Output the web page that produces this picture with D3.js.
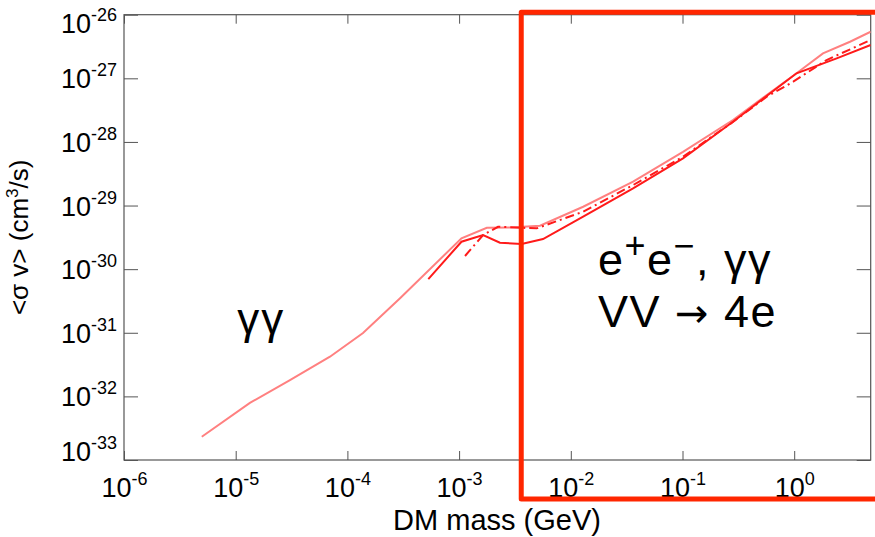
<!DOCTYPE html>
<html>
<head>
<meta charset="utf-8">
<script src="https://cdn.jsdelivr.net/npm/d3@7"></script>
<style>
  body { margin: 0; background: #fff; }
  svg { display: block; font-family: "Liberation Sans", Arial, Helvetica, sans-serif; }
  .axis line { stroke: #555; }
  .axis path { display: none; }
</style>
</head>
<body>
<div id="app"></div>
<script>
// tick values + exponent labels
const massTicks = [1e-6, 1e-5, 1e-4, 1e-3, 1e-2, 1e-1, 1];
const massExps = ["-6", "-5", "-4", "-3", "-2", "-1", "0"];
const sigmaTicks = [1e-33, 1e-32, 1e-31, 1e-30, 1e-29, 1e-28, 1e-27, 1e-26];
const sigmaExps = ["-33", "-32", "-31", "-30", "-29", "-28", "-27", "-26"];

// gamma gamma curve (light)
const gammaMass = [4.97e-6, 1.34e-5, 3.06e-5, 6.98e-5, 1.38e-4, 2.96e-4, 1.05e-3, 1.77e-3,
  2.86e-3, 5.3e-3, 1.29e-2, 3.61e-2, 0.101, 0.283, 0.568, 1.05, 1.81, 3.16, 4.84];
const gammaSigma = [2.32e-33, 7.9e-33, 1.8e-32, 4.2e-32, 9.9e-32, 3.48e-31, 3.05e-30, 4.48e-30,
  4.51e-30, 4.81e-30, 9.57e-30, 2.37e-29, 7.0e-29, 2.21e-28, 5.46e-28, 1.2e-27, 2.47e-27, 3.76e-27, 5.41e-27];

// e+e- curve (solid)
const eeMass = [5.3e-4, 1.05e-3, 1.64e-3, 2.32e-3, 3.63e-3, 5.64e-3, 1.29e-2, 3.61e-2, 0.101, 0.283, 1.05, 2.4, 4.84];
const eeSigma = [6.98e-31, 2.7e-30, 3.44e-30, 2.6e-30, 2.48e-30, 2.97e-30, 6.67e-30, 1.86e-29, 5.52e-29, 2.08e-28, 1.2e-27, 2.06e-27, 3.34e-27];

// VV -> 4e curve (dash-dot)
const vvMass = [1.13e-3, 1.64e-3, 2.23e-3, 4.95e-3, 1.29e-2, 3.61e-2, 0.101, 0.283, 0.568, 0.98, 1.95, 4.84];
const vvSigma = [1.61e-30, 3.44e-30, 4.64e-30, 4.38e-30, 8.0e-30, 2.1e-29, 5.85e-29, 2.06e-28, 5.14e-28, 8.85e-28, 1.94e-27, 4.0e-27];

const width = 875, height = 537;
const margin = { top: 14.7, right: 4.3, bottom: 77, left: 124 };

const svg = d3.select("#app").append("svg")
  .attr("width", width)
  .attr("height", height);

const x = d3.scaleLog().domain([1e-6, 4.84]).range([margin.left, width - margin.right]);
const y = d3.scaleLog().domain([1e-33, 1e-26]).range([height - margin.bottom, margin.top]);

const plotW = x.range()[1] - x.range()[0];
const plotH = y.range()[0] - y.range()[1];

svg.append("clipPath").attr("id", "clip")
  .append("rect")
  .attr("x", margin.left).attr("y", margin.top)
  .attr("width", plotW).attr("height", plotH);

// frame + inward ticks on all four sides
const bottomAxis = svg.append("g")
  .attr("class", "axis")
  .attr("transform", `translate(0,${y.range()[0]})`)
  .call(d3.axisBottom(x).tickValues(massTicks).tickSizeInner(-9).tickSizeOuter(0).tickFormat(""));

svg.append("g")
  .attr("class", "axis")
  .attr("transform", `translate(0,${y.range()[1]})`)
  .call(d3.axisTop(x).tickValues(massTicks).tickSizeInner(-9).tickSizeOuter(0).tickFormat(""));

const leftAxis = svg.append("g")
  .attr("class", "axis")
  .attr("transform", `translate(${x.range()[0]},0)`)
  .call(d3.axisLeft(y).tickValues(sigmaTicks).tickSizeInner(-14).tickSizeOuter(0).tickFormat(""));

svg.append("g")
  .attr("class", "axis")
  .attr("transform", `translate(${x.range()[1]},0)`)
  .call(d3.axisRight(y).tickValues(sigmaTicks).tickSizeInner(-14).tickSizeOuter(0).tickFormat(""));

svg.append("rect")
  .attr("x", margin.left).attr("y", margin.top)
  .attr("width", plotW).attr("height", plotH)
  .attr("fill", "none").attr("stroke", "#555").attr("stroke-width", 1.2);

// tick labels as 10^n
function powerLabel(sel, exp) {
  sel.append("tspan").text("10");
  sel.append("tspan").attr("dy", -12).attr("font-size", 18).text(exp);
}

bottomAxis.selectAll(".tick").each(function (d, i) {
  const t = d3.select(this).append("text")
    .attr("y", 37)
    .attr("text-anchor", "middle")
    .attr("fill", "#000")
    .attr("font-size", 27);
  powerLabel(t, massExps[i]);
});

leftAxis.selectAll(".tick").each(function (d, i) {
  // keep the end labels inside the frame, as in the original
  let base = 9.5;
  if (i === sigmaTicks.length - 1) base = 18;
  if (i === 0) base = 0;
  const t = d3.select(this).append("text")
    .attr("x", -7)
    .attr("y", base)
    .attr("text-anchor", "end")
    .attr("fill", "#000")
    .attr("font-size", 27);
  powerLabel(t, sigmaExps[i]);
});

// axis titles
svg.append("text")
  .attr("x", 497)
  .attr("y", 530)
  .attr("text-anchor", "middle")
  .attr("font-size", 29)
  .text("DM mass (GeV)");

const yTitle = svg.append("text")
  .attr("transform", `translate(28,${(y.range()[0] + y.range()[1]) / 2}) rotate(-90)`)
  .attr("text-anchor", "middle")
  .attr("font-size", 26);
yTitle.append("tspan").text("<σ v> (cm");
yTitle.append("tspan").attr("dy", -10).attr("font-size", 17).text("3");
yTitle.append("tspan").attr("dy", 10).text("/s)");

// curves
const line = d3.line().x(d => x(d[0])).y(d => y(d[1]));
const plot = svg.append("g").attr("clip-path", "url(#clip)");

const curves = [
  { mass: gammaMass, sigma: gammaSigma, color: "#ff8080", dash: null },
  { mass: vvMass, sigma: vvSigma, color: "#ff1a1a", dash: "9,4,2,4" },
  { mass: eeMass, sigma: eeSigma, color: "#ff1a1a", dash: null }
];

plot.selectAll("path.curve")
  .data(curves)
  .enter()
  .append("path")
  .attr("class", "curve")
  .attr("d", c => line(c.mass.map((m, i) => [m, c.sigma[i]])))
  .attr("fill", "none")
  .attr("stroke", c => c.color)
  .attr("stroke-width", 2)
  .attr("stroke-dasharray", c => c.dash);

// highlighted region box
const boxFrom = 3.6e-3;
svg.append("rect")
  .attr("x", x(boxFrom))
  .attr("y", margin.top - 2.5)
  .attr("width", width - x(boxFrom) + 20)
  .attr("height", 499 - (margin.top - 2.5))
  .attr("fill", "none")
  .attr("stroke", "#ff2600")
  .attr("stroke-width", 5)
  .attr("stroke-linejoin", "round");

// annotations
svg.append("text")
  .attr("x", x(1.03e-5))
  .attr("y", 334)
  .attr("font-size", 44)
  .attr("letter-spacing", 2)
  .attr("fill", "#000")
  .text("γγ");

const ann = svg.append("text")
  .attr("x", x(1.75e-2))
  .attr("y", 275)
  .attr("font-size", 45)
  .attr("letter-spacing", 1.5)
  .attr("fill", "#000");
ann.append("tspan").text("e");
ann.append("tspan").attr("dy", -17).attr("font-size", 36).text("+");
ann.append("tspan").attr("dy", 17).text("e");
ann.append("tspan").attr("dy", -17).attr("font-size", 36).text("−");
ann.append("tspan").attr("dy", 17).text(", γγ");

const ann2 = svg.append("text")
  .attr("x", x(1.75e-2))
  .attr("y", 327)
  .attr("font-size", 45)
  .attr("letter-spacing", 1.5)
  .attr("fill", "#000");
ann2.append("tspan").text("VV ");
ann2.append("tspan").attr("font-family", "DejaVu Sans").attr("font-size", 40).text("→");
ann2.append("tspan").text(" 4e");
</script>
</body>
</html>
